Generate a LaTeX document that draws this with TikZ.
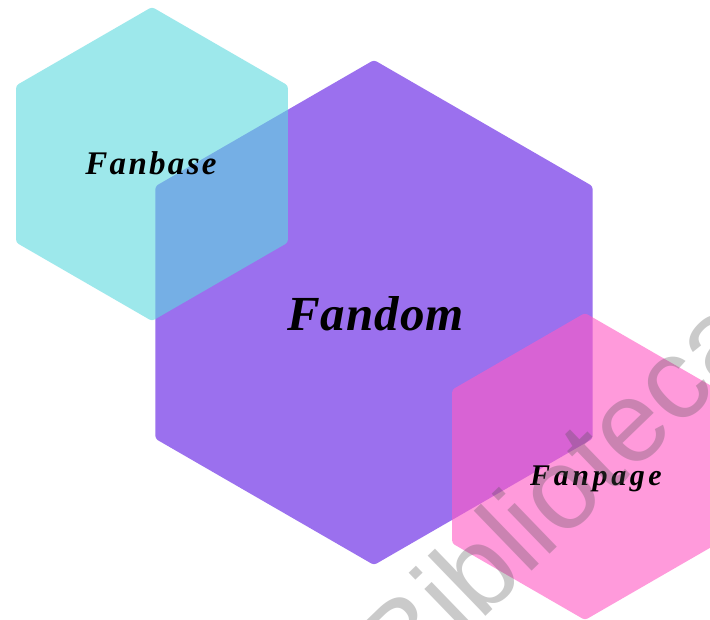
\documentclass[tikz,border=0pt]{standalone}
\usepackage{fontspec}
\newfontfamily\lblfont{Liberation Serif}
\newfontfamily\wmfont{Liberation Sans}
\definecolor{hexpurple}{RGB}{155,112,238}
\definecolor{hexcyan}{RGB}{93,217,223}
\definecolor{hexpink}{RGB}{255,92,197}
\definecolor{wmgray}{RGB}{80,80,80}
\tikzset{
  hexshape/.style={rounded corners=3pt},
  purplehex/.style={hexshape, fill=hexpurple},
  cyanhex/.style={hexshape, fill=hexcyan, fill opacity=0.6},
  pinkhex/.style={hexshape, fill=hexpink, fill opacity=0.62},
  lbl/.style={text=black, inner sep=0pt, anchor=base},
  wmark/.style={text=wmgray, text opacity=0.3, inner sep=0pt, anchor=base,
    font=\wmfont\fontsize{115}{125}\selectfont}
}
\begin{document}
\begin{tikzpicture}[x=1pt,y=-1pt]
\useasboundingbox (0,0) rectangle (710,620);
\clip (0,0) rectangle (710,620);
\fill[white] (0,0) rectangle (710,620);
% Fandom hexagon
\fill[purplehex] (374,312.5) +(90:252.5) -- +(30:252.5) -- +(-30:252.5) -- +(-90:252.5) -- +(-150:252.5) -- +(150:252.5) -- cycle;
% Fanbase hexagon
\fill[cyanhex] (152,164) +(90:157) -- +(30:157) -- +(-30:157) -- +(-90:157) -- +(-150:157) -- +(150:157) -- cycle;
% Fanpage hexagon
\fill[pinkhex] (585,466.5) +(90:153.5) -- +(30:153.5) -- +(-30:153.5) -- +(-90:153.5) -- +(-150:153.5) -- +(150:153.5) -- cycle;
% labels
\node[lbl, font=\lblfont\bfseries\itshape\addfontfeature{LetterSpace=2}\fontsize{49}{53}\selectfont] (fandom) at (375.5,331) {Fandom};
\node[lbl, font=\lblfont\bfseries\itshape\addfontfeature{LetterSpace=7}\fontsize{33}{37}\selectfont] (fanbase) at (151,175) {Fanbase};
\node[lbl, font=\lblfont\bfseries\itshape\addfontfeature{LetterSpace=12}\fontsize{30}{34}\selectfont] (fanpage) at (596,485) {Fanpage};
% watermark
\node[wmark, rotate=44] (wm) at (586,519) {Biblioteca};
\end{tikzpicture}
\end{document}
